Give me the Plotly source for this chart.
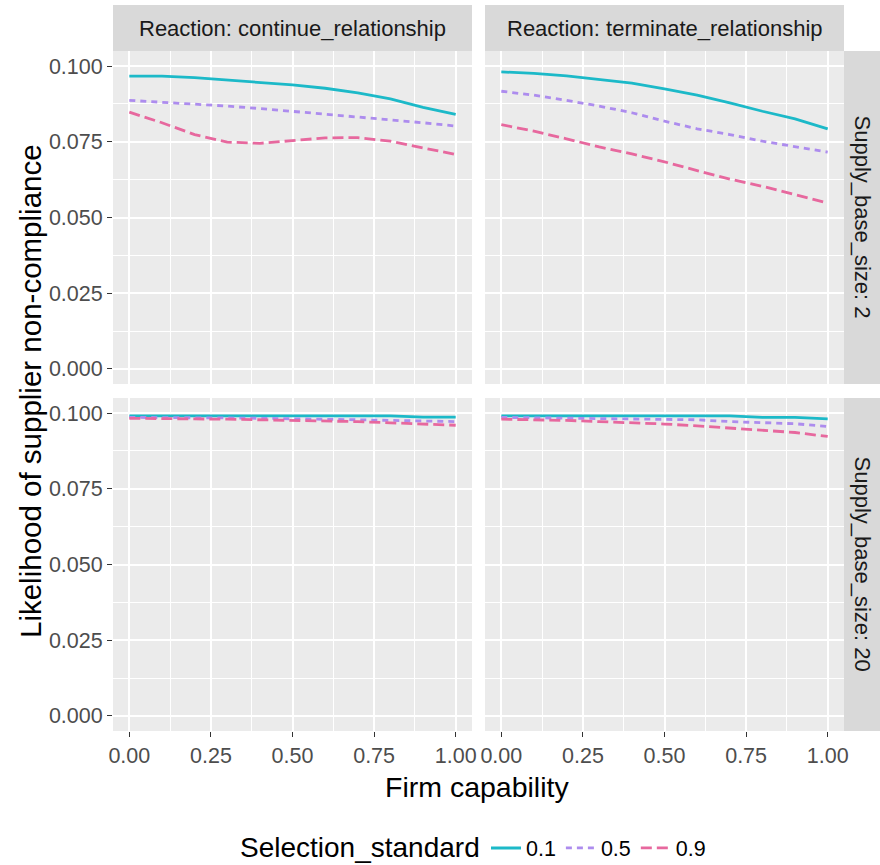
import plotly.graph_objects as go
from plotly.subplots import make_subplots

# ---------------- data ----------------
firm_capability = [0.0, 0.1, 0.2, 0.3, 0.4, 0.5, 0.6, 0.7, 0.8, 0.9, 1.0]
standards = ["0.1", "0.5", "0.9"]
reactions = ["continue_relationship", "terminate_relationship"]
base_sizes = ["2", "20"]

# Supply_base_size 2, Reaction continue_relationship
cont_2_s01 = [0.0967, 0.0967, 0.0962, 0.0954, 0.0947, 0.0938, 0.0927, 0.0912, 0.0892, 0.0864, 0.0841]
cont_2_s05 = [0.0887, 0.0881, 0.0876, 0.0868, 0.0860, 0.0851, 0.0840, 0.0831, 0.0824, 0.0813, 0.0802]
cont_2_s09 = [0.0848, 0.0813, 0.0774, 0.0749, 0.0745, 0.0754, 0.0763, 0.0764, 0.0752, 0.0730, 0.0708]
# Supply_base_size 2, Reaction terminate_relationship
term_2_s01 = [0.0981, 0.0976, 0.0968, 0.0956, 0.0944, 0.0925, 0.0904, 0.0879, 0.0851, 0.0826, 0.0793]
term_2_s05 = [0.0917, 0.0904, 0.0887, 0.0868, 0.0846, 0.0818, 0.0793, 0.0774, 0.0752, 0.0733, 0.0716]
term_2_s09 = [0.0807, 0.0785, 0.0760, 0.0733, 0.0710, 0.0684, 0.0655, 0.0627, 0.0603, 0.0576, 0.0548]
# Supply_base_size 20, Reaction continue_relationship
cont_20_s01 = [0.0991, 0.0991, 0.0991, 0.0991, 0.0991, 0.0991, 0.0991, 0.0991, 0.0991, 0.0987, 0.0987]
cont_20_s05 = [0.0986, 0.0986, 0.0985, 0.0984, 0.0983, 0.0982, 0.0980, 0.0978, 0.0976, 0.0974, 0.0972]
cont_20_s09 = [0.0983, 0.0983, 0.0981, 0.0980, 0.0978, 0.0977, 0.0975, 0.0972, 0.0968, 0.0964, 0.0960]
# Supply_base_size 20, Reaction terminate_relationship
term_20_s01 = [0.0991, 0.0991, 0.0991, 0.0991, 0.0991, 0.0991, 0.0991, 0.0991, 0.0986, 0.0986, 0.0981]
term_20_s05 = [0.0986, 0.0985, 0.0983, 0.0982, 0.0981, 0.0980, 0.0978, 0.0972, 0.0969, 0.0965, 0.0956]
term_20_s09 = [0.0980, 0.0979, 0.0976, 0.0972, 0.0969, 0.0964, 0.0958, 0.0951, 0.0945, 0.0936, 0.0923]

x_ticks = [0.0, 0.25, 0.5, 0.75, 1.0]
x_ticklabels = ["0.00", "0.25", "0.50", "0.75", "1.00"]
y_ticks = [0.0, 0.025, 0.05, 0.075, 0.1]
y_ticklabels = ["0.000", "0.025", "0.050", "0.075", "0.100"]

panels = {
    (1, 1): [cont_2_s01, cont_2_s05, cont_2_s09],
    (1, 2): [term_2_s01, term_2_s05, term_2_s09],
    (2, 1): [cont_20_s01, cont_20_s05, cont_20_s09],
    (2, 2): [term_20_s01, term_20_s05, term_20_s09],
}

# ---------------- style ----------------
colors = ["#1CB9C8", "#AD8CEE", "#E7689E"]
dashes = ["solid", "6px,5px", "11px,5px"]
FONT = "Liberation Sans, Arial, sans-serif"
W, H = 880, 865
ML, MR, MT, MB = 113, 36, 51, 134
PW = W - ML - MR
PH = H - MT - MB

fig = make_subplots(rows=2, cols=2,
                    horizontal_spacing=13 / PW,
                    vertical_spacing=14 / PH)

for (r, c), series in panels.items():
    for i, ys in enumerate(series):
        fig.add_trace(go.Scatter(
            x=firm_capability, y=ys, mode="lines",
            name=standards[i], legendgroup=standards[i],
            showlegend=(r == 1 and c == 1),
            line=dict(color=colors[i], width=2.8, dash=dashes[i]),
        ), row=r, col=c)

bg = "#EBEBEB"
for r in (1, 2):
    for c in (1, 2):
        fig.update_xaxes(
            range=[-0.05, 1.05], tickvals=x_ticks, ticktext=x_ticklabels,
            showticklabels=(r == 2), ticks="outside" if r == 2 else "",
            ticklen=5, tickcolor="#333333", tickwidth=1,
            showgrid=True, gridcolor="white", gridwidth=1.6,
            minor=dict(showgrid=True, gridcolor="white", gridwidth=0.7,
                       tick0=0.125, dtick=0.25),
            zeroline=False, showline=False,
            tickfont=dict(family=FONT, size=21.5, color="#4D4D4D"),
            row=r, col=c)
        fig.update_yaxes(
            range=[-0.005, 0.105], tickvals=y_ticks, ticktext=y_ticklabels,
            showticklabels=(c == 1), ticks="outside" if c == 1 else "",
            ticklen=5, tickcolor="#333333", tickwidth=1,
            showgrid=True, gridcolor="white", gridwidth=1.6,
            minor=dict(showgrid=True, gridcolor="white", gridwidth=0.7,
                       tick0=0.0125, dtick=0.025),
            zeroline=False, showline=False,
            tickfont=dict(family=FONT, size=21.5, color="#4D4D4D"),
            row=r, col=c)

# panel backgrounds via shapes below traces
shapes = []
annotations = []
xdoms = [fig.layout.xaxis.domain, fig.layout.xaxis2.domain]
ydoms = [fig.layout.yaxis.domain, fig.layout.yaxis3.domain]
for xd in xdoms:
    for yd in ydoms:
        shapes.append(dict(type="rect", xref="paper", yref="paper",
                           x0=xd[0], x1=xd[1], y0=yd[0], y1=yd[1],
                           fillcolor=bg, line=dict(width=0), layer="below"))

strip_top = 1 + 46 / PH
for xd, lab in zip(xdoms, reactions):
    shapes.append(dict(type="rect", xref="paper", yref="paper",
                       x0=xd[0], x1=xd[1], y0=1, y1=strip_top,
                       fillcolor="#D9D9D9", line=dict(width=0)))
    annotations.append(dict(xref="paper", yref="paper",
                            x=(xd[0] + xd[1]) / 2, y=(1 + strip_top) / 2,
                            text="Reaction: " + lab, showarrow=False,
                            font=dict(family=FONT, size=22, color="#1A1A1A"),
                            xanchor="center", yanchor="middle"))

strip_right = 1 + 36 / PW
for yd, lab in zip(ydoms, base_sizes):
    shapes.append(dict(type="rect", xref="paper", yref="paper",
                       x0=1, x1=strip_right, y0=yd[0], y1=yd[1],
                       fillcolor="#D9D9D9", line=dict(width=0)))
    annotations.append(dict(xref="paper", yref="paper",
                            x=(1 + strip_right) / 2, y=(yd[0] + yd[1]) / 2,
                            text="Supply_base_size: " + lab, showarrow=False,
                            textangle=90,
                            font=dict(family=FONT, size=22, color="#1A1A1A"),
                            xanchor="center", yanchor="middle"))

# axis titles
annotations.append(dict(xref="paper", yref="paper",
                        x=(477 - ML) / PW, y=(H - MB - 787) / PH,
                        text="Firm capability", showarrow=False,
                        font=dict(family=FONT, size=28.5, color="black"),
                        xanchor="center", yanchor="middle"))
annotations.append(dict(xref="paper", yref="paper",
                        x=(30 - ML) / PW, y=0.5,
                        text="Likelihood of supplier non-compliance",
                        showarrow=False, textangle=-90,
                        font=dict(family=FONT, size=29.5, color="black"),
                        xanchor="center", yanchor="middle"))

# legend title as its own text
annotations.append(dict(xref="paper", yref="paper",
                        x=(482 - ML) / PW, y=(H - MB - 847) / PH,
                        text="Selection_standard", showarrow=False,
                        font=dict(family=FONT, size=28, color="black"),
                        xanchor="right", yanchor="middle"))

fig.update_layout(
    width=W, height=H,
    margin=dict(l=ML, r=MR, t=MT, b=MB, autoexpand=False),
    paper_bgcolor="white", plot_bgcolor="rgba(0,0,0,0)",
    shapes=shapes, annotations=annotations,
    legend=dict(orientation="h", x=(486 - ML) / PW, xanchor="left",
                y=(H - MB - 848) / PH, yanchor="middle",
                font=dict(family=FONT, size=21.5, color="black"),
                bgcolor="rgba(0,0,0,0)", itemwidth=30, tracegroupgap=0),
    font=dict(family=FONT),
)

fig.write_html("out.html")
